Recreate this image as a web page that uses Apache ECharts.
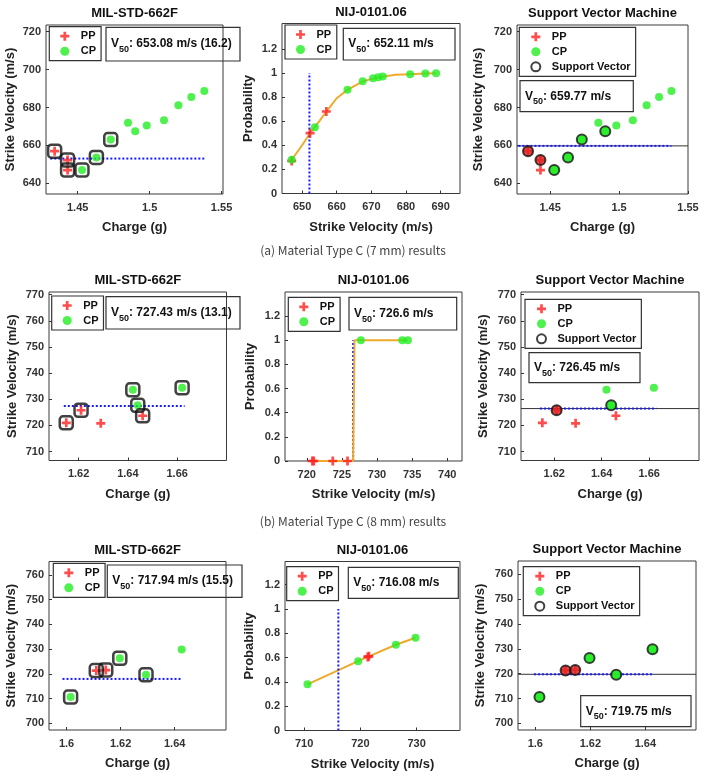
<!DOCTYPE html>
<html><head><meta charset="utf-8">
<script src="https://cdn.jsdelivr.net/npm/echarts@6/dist/echarts.min.js"></script>
<style>html,body{margin:0;padding:0;background:#fff}#main{width:707px;height:781px}</style>
</head><body><div id="main"></div>
<script>
// ---------- (a) Material Type C (7 mm) ----------
const c7PPCharge = [1.434, 1.443, 1.443];
const c7PPVel    = [657.0, 652.3, 647.0];
const c7CPCharge = [1.453, 1.463, 1.473, 1.485, 1.490, 1.498, 1.510, 1.520, 1.529, 1.538];
const c7CPVel    = [647.0, 653.7, 663.1, 672.0, 667.5, 670.5, 673.3, 681.2, 685.6, 688.7];
const c7MilZonePP = [0, 1, 2];
const c7MilZoneCP = [0, 1, 2];
const c7SvPP = [0, 1];
const c7SvCP = [0, 1, 2, 4];
const c7PPProb = [0.68, 0.50, 0.27];
const c7CPProb = [0.28, 0.55, 0.86, 0.965, 0.93, 0.955, 0.97, 0.99, 0.995, 0.997];
const c7FitVel  = [647.0, 650.0, 652.3, 655.0, 657.0, 660.0, 663.1, 667.5, 672.0, 677.0, 681.2, 685.6, 688.7];
const c7FitProb = [0.28, 0.40, 0.50, 0.60, 0.68, 0.79, 0.86, 0.93, 0.965, 0.985, 0.99, 0.995, 0.997];
const c7MilV50 = 653.08, c7MilSD = 16.2, c7NijV50 = 652.11, c7SvmV50 = 659.77;
const c7MilLineX = [1.431, 1.538];
const c7SvmLineX = [1.427, 1.538];

// ---------- (b) Material Type C (8 mm) ----------
const c8PPCharge = [1.615, 1.621, 1.629, 1.646];
const c8PPVel    = [721.0, 725.8, 720.8, 723.7];
const c8CPCharge = [1.642, 1.644, 1.662];
const c8CPVel    = [733.6, 727.7, 734.4];
const c8MilZonePP = [0, 1, 3];
const c8MilZoneCP = [0, 1, 2];
const c8SvPP = [1];
const c8SvCP = [1];
const c8PPProb = [0, 0, 0, 0];
const c8CPProb = [1, 1, 1];
const c8FitVel  = [720.8, 726.6, 726.8, 734.4];
const c8FitProb = [0, 0, 1, 1];
const c8MilV50 = 727.43, c8MilSD = 13.1, c8NijV50 = 726.6, c8SvmV50 = 726.45;
const c8MilLineX = [1.614, 1.663];
const c8SvmLineX = [1.614, 1.663];

// ---------- third row ----------
const t3PPCharge = [1.611, 1.6145];
const t3PPVel    = [721.3, 721.5];
const t3CPCharge = [1.6015, 1.6197, 1.6294, 1.6426];
const t3CPVel    = [710.6, 726.3, 719.6, 729.8];
const t3MilZonePP = [0, 1];
const t3MilZoneCP = [0, 1, 2];
const t3SvPP = [0, 1];
const t3SvCP = [0, 1, 2, 3];
const t3PPProb = [0.605, 0.61];
const t3CPProb = [0.38, 0.705, 0.57, 0.763];
const t3FitVel  = [710.6, 719.6, 721.3, 726.3, 729.8];
const t3FitProb = [0.38, 0.57, 0.605, 0.705, 0.763];
const t3MilV50 = 717.94, t3MilSD = 15.5, t3NijV50 = 716.08, t3SvmV50 = 719.75;
const t3MilLineX = [1.5985, 1.6425];
const t3SvmLineX = [1.5995, 1.6426];

// ---------- tick labels ----------
const c7VelTicks = [640, 660, 680, 700, 720];
const c8VelTicks = [710, 720, 730, 740, 750, 760, 770];
const t3VelTicks = [700, 710, 720, 730, 740, 750, 760];
const probTicks = [0, 0.2, 0.4, 0.6, 0.8, 1, 1.2];
const c7ChargeTicks = [1.45, 1.5, 1.55];
const c8ChargeTicks = [1.62, 1.64, 1.66];
const t3ChargeTicks = [1.6, 1.62, 1.64];
const c7NijTicks = [650, 660, 670, 680, 690];
const c8NijTicks = [720, 725, 730, 735, 740];
const t3NijTicks = [710, 720, 730];

const panelTitles = ['MIL-STD-662F', 'NIJ-0101.06', 'Support Vector Machine'];
const captions = ['(a) Material Type C (7 mm) results', '(b) Material Type C (8 mm) results'];

// ---------- layout & styles ----------
const FONT = "'Liberation Sans', Arial, Helvetica, sans-serif";
const RED = '#ff1f1f', GREEN = '#22ee22', BLUE = '#1a1aff', ORANGE = '#eeaa2a';
const PLUS = 'path://M3.5,0H6.5V3.5H10V6.5H6.5V10H3.5V6.5H0V3.5H3.5Z';

const layout = [
  {l:46,  t:25,    w:177,   h:169},
  {l:282, t:23.5,  w:178,   h:170},
  {l:517, t:25,    w:171,   h:169},
  {l:49,  t:292,   w:177.5, h:168.5},
  {l:285, t:292,   w:177,   h:169},
  {l:521, t:292,   w:178,   h:168.5},
  {l:49,  t:561.5, w:177,   h:168.5},
  {l:285, t:561.5, w:175,   h:169},
  {l:518, t:561,   w:178,   h:169}
];
const axes = [
  {x:[1.428, 1.551], xt:c7ChargeTicks, y:[634.4, 723.5], yt:c7VelTicks, xn:'Charge (g)', yn:'Strike Velocity (m/s)', g:29},
  {x:[644.2, 695.6], xt:c7NijTicks, y:[0, 1.41], yt:probTicks, xn:'Strike Velocity (m/s)', yn:'Probability', g:27},
  {x:[1.426, 1.55], xt:c7ChargeTicks, y:[634.4, 723.5], yt:c7VelTicks, xn:'Charge (g)', yn:'Strike Velocity (m/s)', g:32},
  {x:[1.608, 1.68], xt:c8ChargeTicks, y:[706.6, 771], yt:c8VelTicks, xn:'Charge (g)', yn:'Strike Velocity (m/s)', g:30},
  {x:[716.9, 742.1], xt:c8NijTicks, y:[0, 1.4], yt:probTicks, xn:'Strike Velocity (m/s)', yn:'Probability', g:28},
  {x:[1.606, 1.681], xt:c8ChargeTicks, y:[706.6, 771], yt:c8VelTicks, xn:'Charge (g)', yn:'Strike Velocity (m/s)', g:31.5},
  {x:[1.5935, 1.659], xt:t3ChargeTicks, y:[697.3, 765.4], yt:t3VelTicks, xn:'Charge (g)', yn:'Strike Velocity (m/s)', g:31},
  {x:[706.6, 737.7], xt:t3NijTicks, y:[0, 1.39], yt:probTicks, xn:'Strike Velocity (m/s)', yn:'Probability', g:29},
  {x:[1.5937, 1.6584], xt:t3ChargeTicks, y:[697.3, 765.4], yt:t3VelTicks, xn:'Charge (g)', yn:'Strike Velocity (m/s)', g:31}
];

const fmt = v => String(+(+v).toFixed(3));
const nameStyle = {color:'#222', fontSize:13, fontWeight:'bold', fontFamily:FONT};
const labStyle = {color:'#333', fontSize:11, fontWeight:'bold', fontFamily:FONT};

const grid = layout.map(p => ({left:p.l, top:p.t, width:p.w, height:p.h, show:true,
  borderColor:'#3a3a3a', borderWidth:1, backgroundColor:'#fff'}));
const xAxis = axes.map((a, k) => ({gridIndex:k, type:'value', min:a.x[0], max:a.x[1],
  axisLine:{show:false}, splitLine:{show:false},
  axisTick:{show:true, inside:true, length:3, customValues:a.xt, lineStyle:{color:'#333'}},
  axisLabel:Object.assign({customValues:a.xt, margin:8, formatter:fmt}, labStyle),
  name:a.xn, nameLocation:'middle', nameGap:27, nameTextStyle:nameStyle}));
const yAxis = axes.map((a, k) => ({gridIndex:k, type:'value', min:a.y[0], max:a.y[1],
  axisLine:{show:false}, splitLine:{show:false},
  axisTick:{show:true, inside:true, length:3, customValues:a.yt, lineStyle:{color:'#333'}},
  axisLabel:Object.assign({customValues:a.yt, margin:5, formatter:fmt}, labStyle),
  name:a.yn, nameLocation:'middle', nameRotate:90, nameGap:a.g, nameTextStyle:nameStyle}));

function pts(xs, ys, idx) { return (idx || xs.map((_, i) => i)).map(i => [xs[i], ys[i]]); }
function svPts(px, py, pi, cx, cy, ci) {
  return pi.map(i => ({value:[px[i], py[i]], itemStyle:{color:'#e02020'}}))
    .concat(ci.map(i => ({value:[cx[i], cy[i]], itemStyle:{color:GREEN}})));
}
const base = k => ({xAxisIndex:k, yAxisIndex:k, silent:true, animation:false});
const ppS = (k, d) => Object.assign(base(k), {type:'scatter', name:'PP', symbol:PLUS, symbolSize:9, itemStyle:{color:RED}, data:d, z:5});
const cpS = (k, d) => Object.assign(base(k), {type:'scatter', name:'CP', symbol:'circle', symbolSize:8, itemStyle:{color:GREEN}, data:d, z:5});
const sqS = (k, d) => Object.assign(base(k), {type:'scatter', name:'zone', symbol:'roundRect', symbolSize:13,
  itemStyle:{color:'rgba(0,0,0,0)', borderColor:'#111', borderWidth:2.5}, data:d, z:6});
const svS = (k, d) => Object.assign(base(k), {type:'scatter', name:'Support Vector', symbol:'circle', symbolSize:10,
  itemStyle:{color:'rgba(0,0,0,0)', borderColor:'#111', borderWidth:2}, data:d, z:6});
const lineS = (k, d, color, width, type, z) => Object.assign(base(k), {type:'line', name:'line'+k+z, symbol:'none',
  lineStyle:{color, width, type}, data:d, z});

const series = [
  // P1 MIL (a)
  sqS(0, pts(c7PPCharge, c7PPVel, c7MilZonePP).concat(pts(c7CPCharge, c7CPVel, c7MilZoneCP))),
  lineS(0, [[c7MilLineX[0], c7MilV50], [c7MilLineX[1], c7MilV50]], BLUE, 2, [2, 2], 3),
  ppS(0, pts(c7PPCharge, c7PPVel)), cpS(0, pts(c7CPCharge, c7CPVel)),
  // P2 NIJ (a)
  lineS(1, pts(c7FitVel, c7FitProb), ORANGE, 2, 'solid', 3),
  lineS(1, [[c7NijV50, 0], [c7NijV50, 1]], BLUE, 2, [2, 2], 4),
  ppS(1, pts(c7PPVel, c7PPProb)), cpS(1, pts(c7CPVel, c7CPProb)),
  // P3 SVM (a)
  lineS(2, [[axes[2].x[0], c7SvmV50], [axes[2].x[1], c7SvmV50]], '#333', 1, 'solid', 2),
  lineS(2, [[c7SvmLineX[0], c7SvmV50], [c7SvmLineX[1], c7SvmV50]], BLUE, 2, [2, 2], 3),
  ppS(2, pts(c7PPCharge, c7PPVel)), cpS(2, pts(c7CPCharge, c7CPVel)),
  svS(2, svPts(c7PPCharge, c7PPVel, c7SvPP, c7CPCharge, c7CPVel, c7SvCP)),
  // P4 MIL (b)
  sqS(3, pts(c8PPCharge, c8PPVel, c8MilZonePP).concat(pts(c8CPCharge, c8CPVel, c8MilZoneCP))),
  lineS(3, [[c8MilLineX[0], c8MilV50], [c8MilLineX[1], c8MilV50]], BLUE, 2, [2, 2], 3),
  ppS(3, pts(c8PPCharge, c8PPVel)), cpS(3, pts(c8CPCharge, c8CPVel)),
  // P5 NIJ (b)
  lineS(4, [[c8NijV50, 0], [c8NijV50, 1]], BLUE, 2, [2, 2], 2),
  lineS(4, pts(c8FitVel, c8FitProb), ORANGE, 2, 'solid', 3),
  ppS(4, pts(c8PPVel, c8PPProb)), cpS(4, pts(c8CPVel, c8CPProb)),
  // P6 SVM (b)
  lineS(5, [[axes[5].x[0], c8SvmV50], [axes[5].x[1], c8SvmV50]], '#333', 1, 'solid', 2),
  lineS(5, [[c8SvmLineX[0], c8SvmV50], [c8SvmLineX[1], c8SvmV50]], BLUE, 2, [2, 2], 3),
  ppS(5, pts(c8PPCharge, c8PPVel)), cpS(5, pts(c8CPCharge, c8CPVel)),
  svS(5, svPts(c8PPCharge, c8PPVel, c8SvPP, c8CPCharge, c8CPVel, c8SvCP)),
  // P7 MIL (c)
  sqS(6, pts(t3PPCharge, t3PPVel, t3MilZonePP).concat(pts(t3CPCharge, t3CPVel, t3MilZoneCP))),
  lineS(6, [[t3MilLineX[0], t3MilV50], [t3MilLineX[1], t3MilV50]], BLUE, 2, [2, 2], 3),
  ppS(6, pts(t3PPCharge, t3PPVel)), cpS(6, pts(t3CPCharge, t3CPVel)),
  // P8 NIJ (c)
  lineS(7, pts(t3FitVel, t3FitProb), ORANGE, 2, 'solid', 3),
  lineS(7, [[t3NijV50, 0], [t3NijV50, 1]], BLUE, 2, [2, 2], 4),
  ppS(7, pts(t3PPVel, t3PPProb)), cpS(7, pts(t3CPVel, t3CPProb)),
  // P9 SVM (c)
  lineS(8, [[axes[8].x[0], t3SvmV50], [axes[8].x[1], t3SvmV50]], '#333', 1, 'solid', 2),
  lineS(8, [[t3SvmLineX[0], t3SvmV50], [t3SvmLineX[1], t3SvmV50]], BLUE, 2, [2, 2], 3),
  ppS(8, pts(t3PPCharge, t3PPVel)), cpS(8, pts(t3CPCharge, t3CPVel)),
  svS(8, svPts(t3PPCharge, t3PPVel, t3SvPP, t3CPCharge, t3CPVel, t3SvCP))
];

// ---------- legends ----------
const legPos = [[49.3, 26.7], [285, 25], [519.3, 27.3], [51.7, 296], [288.3, 297.3], [525, 299.3], [53.3, 563.3], [286.7, 566.7], [523.3, 566.7]];
const legend = legPos.map((p, k) => {
  const svm = k % 3 === 2;
  const data = [{name:'PP', icon:PLUS}, {name:'CP', icon:'circle'}];
  if (svm) data.push({name:'Support Vector', icon:'circle', itemStyle:{color:'rgba(0,0,0,0)', borderColor:'#111', borderWidth:2}});
  return {data, left:p[0], top:p[1], orient:'vertical', padding:[3, 5, 3, 11], itemGap:2,
    itemWidth:14, itemHeight:9, borderColor:'#333', borderWidth:1.2, backgroundColor:'#fff',
    selectedMode:false, z:20,
    textStyle:{fontSize:11, fontWeight:'bold', color:'#111', fontFamily:FONT, padding:[0, 0, 0, 4], lineHeight:13}};
});

// ---------- graphic: titles, captions, V50 boxes ----------
const graphic = [];
layout.forEach((p, k) => {
  graphic.push({type:'text', x:p.l + p.w / 2, y:p.t - 11.5, z:20,
    style:{text:panelTitles[k % 3], fill:'#111', font:'bold 13px ' + FONT, align:'center', verticalAlign:'middle'}});
});
graphic.push({type:'text', x:353, y:250, z:20, style:{text:captions[0], fill:'#444', font:"12px 'Noto Sans CJK KR', 'Noto Sans', sans-serif", align:'center', verticalAlign:'middle'}});
graphic.push({type:'text', x:353, y:521.5, z:20, style:{text:captions[1], fill:'#444', font:"12px 'Noto Sans CJK KR', 'Noto Sans', sans-serif", align:'center', verticalAlign:'middle'}});

const v50Boxes = [
  [106, 27.3, 134, 33.7, c7MilV50.toFixed(2) + ' m/s (' + c7MilSD + ')'],
  [343.3, 28.3, 111.7, 31.7, c7NijV50.toFixed(2) + ' m/s'],
  [520, 80.7, 113.3, 31, c7SvmV50.toFixed(2) + ' m/s'],
  [106, 296.7, 134, 32.3, c8MilV50.toFixed(2) + ' m/s (' + c8MilSD + ')'],
  [349, 297.3, 107.7, 32.7, c8NijV50 + ' m/s'],
  [529, 352.7, 111, 30, c8SvmV50.toFixed(2) + ' m/s'],
  [107.3, 565, 134.7, 32.3, t3MilV50.toFixed(2) + ' m/s (' + t3MilSD + ')'],
  [348.3, 567.3, 110, 31, t3NijV50.toFixed(2) + ' m/s'],
  [580.7, 695.7, 110.3, 31, t3SvmV50.toFixed(2) + ' m/s']
];
v50Boxes.forEach(b => {
  graphic.push({type:'rect', z:19, shape:{x:b[0], y:b[1], width:b[2], height:b[3]},
    style:{fill:'rgba(255,255,255,0)', stroke:'#333', lineWidth:1.2}});
  graphic.push({type:'text', z:21, x:b[0] + 5, y:b[1] + b[3] / 2,
    style:{text:'{v|V}{s|50}{v|: ' + b[4] + '}', align:'left', verticalAlign:'middle',
      rich:{v:{fill:'#111', fontSize:12, fontWeight:'bold', fontFamily:FONT, lineHeight:20, verticalAlign:'middle'},
            s:{fill:'#111', fontSize:9, fontWeight:'bold', fontFamily:FONT, lineHeight:8, verticalAlign:'bottom'}}}});
});

const chart = echarts.init(document.getElementById('main'), null, {renderer:'canvas'});
chart.setOption({animation:false, backgroundColor:'#fff', grid, xAxis, yAxis, series, legend, graphic});
</script></body></html>
